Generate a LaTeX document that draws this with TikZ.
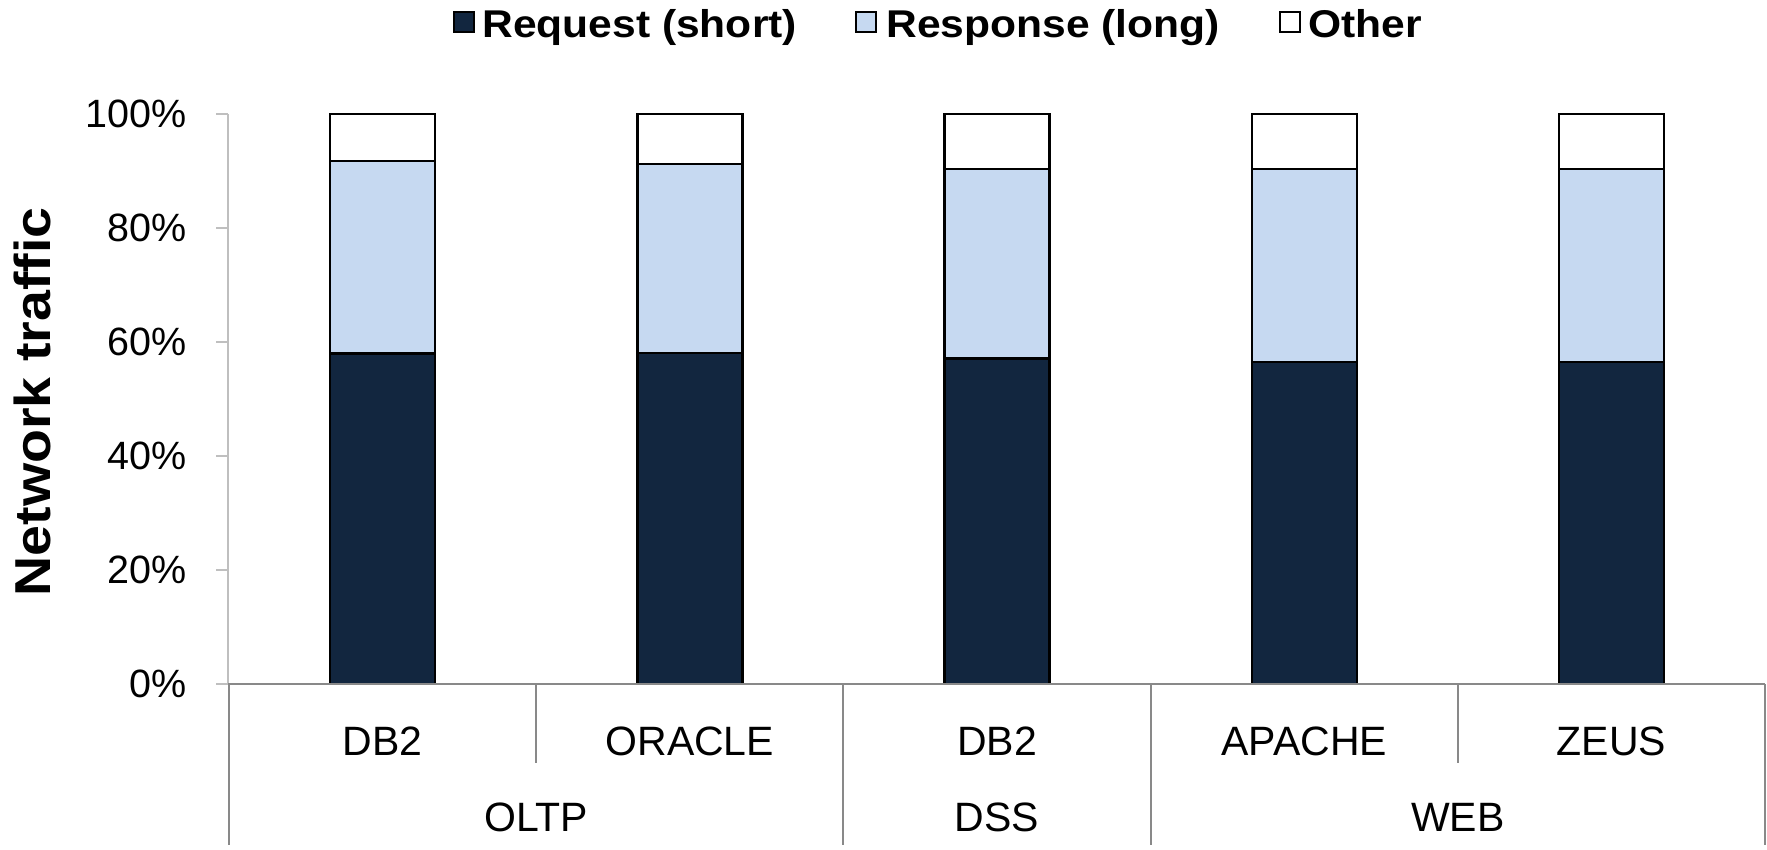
\documentclass[tikz,border=0pt]{standalone}
\usepackage{fontspec}
\setmainfont{Liberation Sans}
\newfontfamily\wideb[FakeStretch=1.1]{Liberation Sans}
\definecolor{req}{HTML}{12263F}
\definecolor{resp}{HTML}{C6D9F1}
\definecolor{axl}{HTML}{BFBFBF}
\definecolor{axd}{HTML}{898989}
\begin{document}
\begin{tikzpicture}[x=0.5pt,y=-0.5pt,
  barseg/.style={draw=black, line width=1.2pt},
  legbox/.style={draw=black, line width=0.75pt},
  legtext/.style={anchor=base west, inner sep=0pt, font=\wideb\bfseries\fontsize{19.35}{23}\selectfont},
  ticklab/.style={anchor=east, inner sep=0pt, font=\fontsize{19.75}{23}\selectfont},
  catlab/.style={anchor=center, inner sep=0pt, font=\fontsize{20.5}{24}\selectfont},
  axlight/.style={draw=axl, line width=1pt},
  axdark/.style={draw=axd, line width=1pt}]
\useasboundingbox (0,0) rectangle (1767,850);
% bars
\foreach \c/\r/\p [count=\i] in {382.6/58.0/91.8, 689.8/58.1/91.2, 997/57.1/90.35, 1304.2/56.5/90.35, 1611.4/56.5/90.35} {
  \filldraw[barseg, fill=white] (\c-52.5, 114) rectangle (\c+52.5, {684-5.7*\p});
  \filldraw[barseg, fill=resp] (\c-52.5, {684-5.7*\p}) rectangle (\c+52.5, {684-5.7*\r});
  \filldraw[barseg, fill=req] (\c-52.5, {684-5.7*\r}) rectangle (\c+52.5, 684);
}
% y axis
\draw[axlight] (228,114) -- (228,684);
\foreach \v [count=\k from 0] in {100\%,80\%,60\%,40\%,20\%,0\%} {
  \draw[axlight] (216,114+114*\k) -- (228,114+114*\k);
  \node[ticklab] (t\k) at (187,114+114*\k) {\v};
}
% x axis and category lines
\draw[axdark] (228,684) -- (1765,684);
\draw[axdark] (228.5,684) -- (228.5,845);
\draw[axdark] (843.4,684) -- (843.4,845);
\draw[axdark] (1150.6,684) -- (1150.6,845);
\draw[axdark] (1765,684) -- (1765,845);
\draw[axdark] (536.2,684) -- (536.2,763);
\draw[axdark] (1457.8,684) -- (1457.8,763);
% category labels
\node[catlab] (c1) at (382.6,741) {DB2};
\node[catlab] (c2) at (689.8,741) {ORACLE};
\node[catlab] (c3) at (997,741) {DB2};
\node[catlab] (c4) at (1304.2,741) {APACHE};
\node[catlab] (c5) at (1611.4,741) {ZEUS};
\node[catlab] (g1) at (536.2,817) {OLTP};
\node[catlab] (g2) at (997,817) {DSS};
\node[catlab] (g3) at (1457.8,817) {WEB};
% y label
\node[rotate=90, anchor=base, inner sep=0pt, font=\wideb\bfseries\fontsize{25.25}{30}\selectfont] (ylab) at (50,402) {Network traffic};
% legend
\filldraw[legbox, fill=req] (454,12) rectangle (474,32);
\node[legtext] (l1) at (482,38) {Request (short)};
\filldraw[legbox, fill=resp] (856,12) rectangle (876,32);
\node[legtext] (l2) at (886,38) {Response (long)};
\filldraw[legbox, fill=white] (1280,12) rectangle (1300,32);
\node[legtext] (l3) at (1308,38) {Other};
\end{tikzpicture}
\end{document}
